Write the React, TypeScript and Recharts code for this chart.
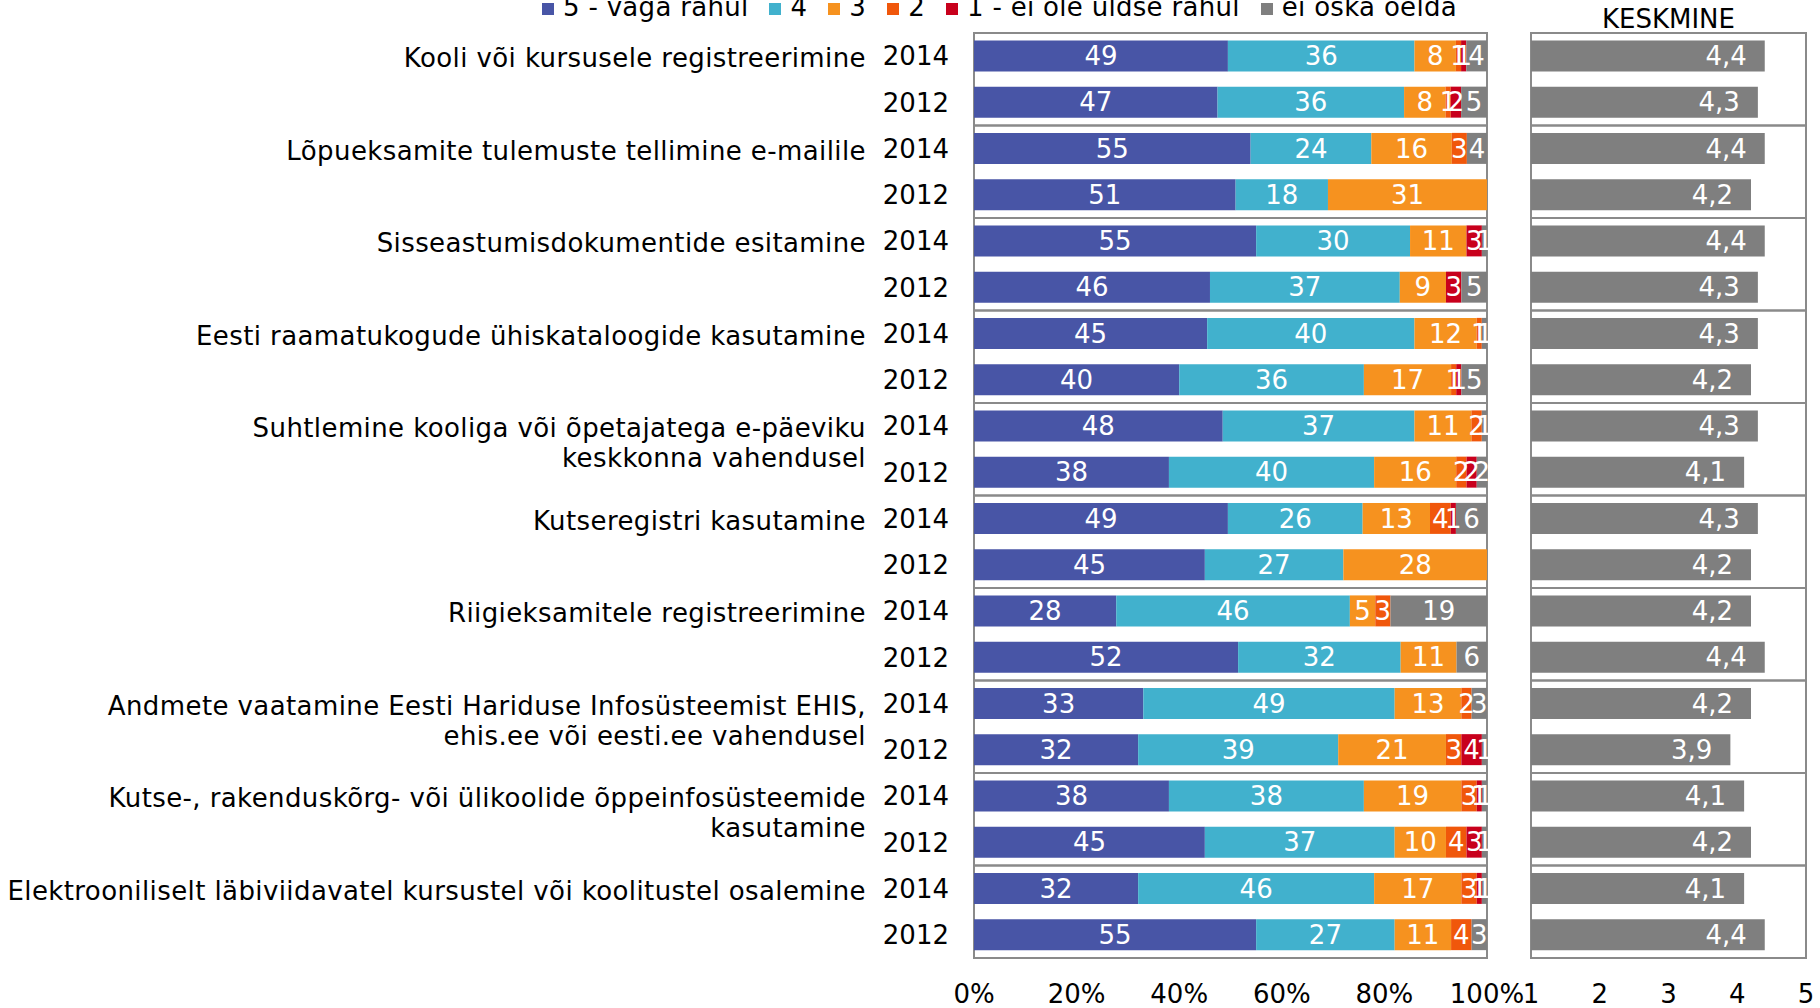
import React from 'react';
import { BarChart, Bar, XAxis, YAxis, LabelList, ReferenceArea } from 'recharts';

const FONT = '"DejaVu Sans", Verdana, sans-serif';

const groups: string[][] = [
  ['Kooli või kursusele registreerimine'],
  ['Lõpueksamite tulemuste tellimine e-mailile'],
  ['Sisseastumisdokumentide esitamine'],
  ['Eesti raamatukogude ühiskataloogide kasutamine'],
  ['Suhtlemine kooliga või õpetajatega e-päeviku', 'keskkonna vahendusel'],
  ['Kutseregistri kasutamine'],
  ['Riigieksamitele registreerimine'],
  ['Andmete vaatamine Eesti Hariduse Infosüsteemist EHIS,', 'ehis.ee või eesti.ee vahendusel'],
  ['Kutse-, rakenduskõrg- või ülikoolide õppeinfosüsteemide', 'kasutamine'],
  ['Elektrooniliselt läbiviidavatel kursustel või koolitustel osalemine'],
];
const years = ['2014', '2012'];

const v5 = [49, 47, 55, 51, 55, 46, 45, 40, 48, 38, 49, 45, 28, 52, 33, 32, 38, 45, 32, 55];
const v4 = [36, 36, 24, 18, 30, 37, 40, 36, 37, 40, 26, 27, 46, 32, 49, 39, 38, 37, 46, 27];
const v3 = [8, 8, 16, 31, 11, 9, 12, 17, 11, 16, 13, 28, 5, 11, 13, 21, 19, 10, 17, 11];
const v2 = [1, 1, 3, 0, 0, 0, 1, 1, 2, 2, 4, 0, 3, 0, 2, 3, 3, 4, 3, 4];
const v1 = [1, 2, 0, 0, 3, 3, 0, 1, 0, 2, 1, 0, 0, 0, 0, 4, 1, 3, 1, 0];
const vdk = [4, 5, 4, 0, 1, 5, 1, 5, 1, 2, 6, 0, 19, 6, 3, 1, 1, 1, 1, 3];
const avg = [4.4, 4.3, 4.4, 4.2, 4.4, 4.3, 4.3, 4.2, 4.3, 4.1, 4.3, 4.2, 4.2, 4.4, 4.2, 3.9, 4.1, 4.2, 4.1, 4.4];

const pctTicks = [0, 0.2, 0.4, 0.6, 0.8, 1];
const avgTicks = [1, 2, 3, 4, 5];

const seriesNames = ['5 - väga rahul', '4', '3', '2', '1 - ei ole üldse rahul', 'ei oska öelda'];
const seriesKeys = ['v5', 'v4', 'v3', 'v2', 'v1', 'vdk'];
const seriesColors = ['#4855A6', '#41B1CD', '#F6921F', '#F0570B', '#C8001C', '#7F7F7F'];

const rows = v5.map((_, i) => ({
  id: 'r' + i,
  group: Math.floor(i / 2),
  year: years[i % 2],
  v5: v5[i],
  v4: v4[i],
  v3: v3[i],
  v2: v2[i],
  v1: v1[i],
  vdk: vdk[i],
  avg: avg[i],
}));

const FRAME = '#8A8A8A';

const CatTick = (props: any) => {
  const { x, y, payload } = props;
  const row = rows.find((r) => r.id === payload.value);
  if (!row) return null;
  const idx = rows.indexOf(row);
  return (
    <g>
      <text x={x} y={y} dy="0.355em" textAnchor="end" fontSize={26} fontFamily={FONT} fill="#000">
        {row.year}
      </text>
      {idx % 2 === 0 &&
        groups[row.group].map((line, li) => (
          <text
            key={li}
            x={x - 83}
            y={y + 2 + li * 30}
            dy="0.355em"
            textAnchor="end"
            fontSize={26}
            letterSpacing={0.4}
            fontFamily={FONT}
            fill="#000"
          >
            {line}
          </text>
        ))}
    </g>
  );
};

const Legend = () => (
  <div
    style={{
      position: 'absolute',
      left: 542,
      top: -6,
      display: 'flex',
      gap: 21,
      fontFamily: FONT,
      fontSize: 26,
      lineHeight: '26px',
      whiteSpace: 'nowrap',
      color: '#000',
    }}
  >
    {seriesNames.map((n, i) => (
      <div key={n} style={{ display: 'flex', alignItems: 'flex-start', gap: 9 }}>
        <div style={{ width: 12, height: 12, marginTop: 9, background: seriesColors[i] }} />
        <span style={{ letterSpacing: 0.3 }}>{n}</span>
      </div>
    ))}
  </div>
);

export default function App() {
  return (
    <div style={{ position: 'absolute', left: 0, top: 0, width: 1820, height: 1008, background: '#fff', overflow: 'hidden' }}>
      <div style={{ position: 'absolute', left: 0, top: 0 }}>
        <BarChart
          width={1530}
          height={1008}
          data={rows}
          layout="vertical"
          stackOffset="expand"
          margin={{ top: 33, right: 43, bottom: 0, left: 0 }}
          barCategoryGap="16%"
        >
          <XAxis
            type="number"
            domain={[0, 1]}
            ticks={pctTicks}
            interval={0}
            tickFormatter={(v: number) => Math.round(v * 100) + '%'}
            axisLine={false}
            tickLine={false}
            tickSize={0}
            tickMargin={27}
            height={50}
            tick={{ fontSize: 26, fill: '#000', fontFamily: FONT }}
          />
          <YAxis
            type="category"
            dataKey="id"
            width={974}
            axisLine={false}
            tickLine={false}
            tickSize={0}
            tickMargin={25}
            interval={0}
            tick={(p: any) => <CatTick {...p} />}
          />
          {seriesKeys.map((k, i) => (
            <Bar key={k} dataKey={k} stackId="a" fill={seriesColors[i]} isAnimationActive={false}>
              <LabelList
                dataKey={k}
                position="center"
                fill="#fff"
                fontSize={26}
                fontFamily={FONT}
                formatter={(v: any) => (v ? String(v) : '')}
              />
            </Bar>
          ))}
          {groups.map((_, gi) => (
            <ReferenceArea
              key={gi}
              y1={'r' + 2 * gi}
              y2={'r' + (2 * gi + 1)}
              fill="none"
              fillOpacity={0}
              stroke={FRAME}
              strokeWidth={2}
              ifOverflow="visible"
            />
          ))}
        </BarChart>
      </div>
      <div style={{ position: 'absolute', left: 1480, top: 0 }}>
        <BarChart
          width={340}
          height={1008}
          data={rows}
          layout="vertical"
          margin={{ top: 33, right: 14, bottom: 0, left: 51 }}
          barCategoryGap="16%"
        >
          <XAxis
            type="number"
            domain={[1, 5]}
            ticks={avgTicks}
            interval={0}
            axisLine={false}
            tickLine={false}
            tickSize={0}
            tickMargin={27}
            height={50}
            tick={{ fontSize: 26, fill: '#000', fontFamily: FONT }}
          />
          <YAxis type="category" dataKey="id" hide />
          <Bar dataKey="avg" fill="#7F7F7F" isAnimationActive={false}>
            <LabelList
              dataKey="avg"
              position="insideRight"
              offset={18}
              fill="#fff"
              fontSize={26}
              fontFamily={FONT}
              formatter={(v: any) => Number(v).toFixed(1).replace('.', ',')}
            />
          </Bar>
          {groups.map((_, gi) => (
            <ReferenceArea
              key={gi}
              y1={'r' + 2 * gi}
              y2={'r' + (2 * gi + 1)}
              fill="none"
              fillOpacity={0}
              stroke={FRAME}
              strokeWidth={2}
              ifOverflow="visible"
            />
          ))}
        </BarChart>
      </div>
      <div
        style={{
          position: 'absolute',
          left: 1531,
          width: 275,
          top: 6,
          textAlign: 'center',
          fontFamily: FONT,
          fontSize: 26,
          lineHeight: '26px',
          color: '#000',
        }}
      >
        KESKMINE
      </div>
      <Legend />
    </div>
  );
}
